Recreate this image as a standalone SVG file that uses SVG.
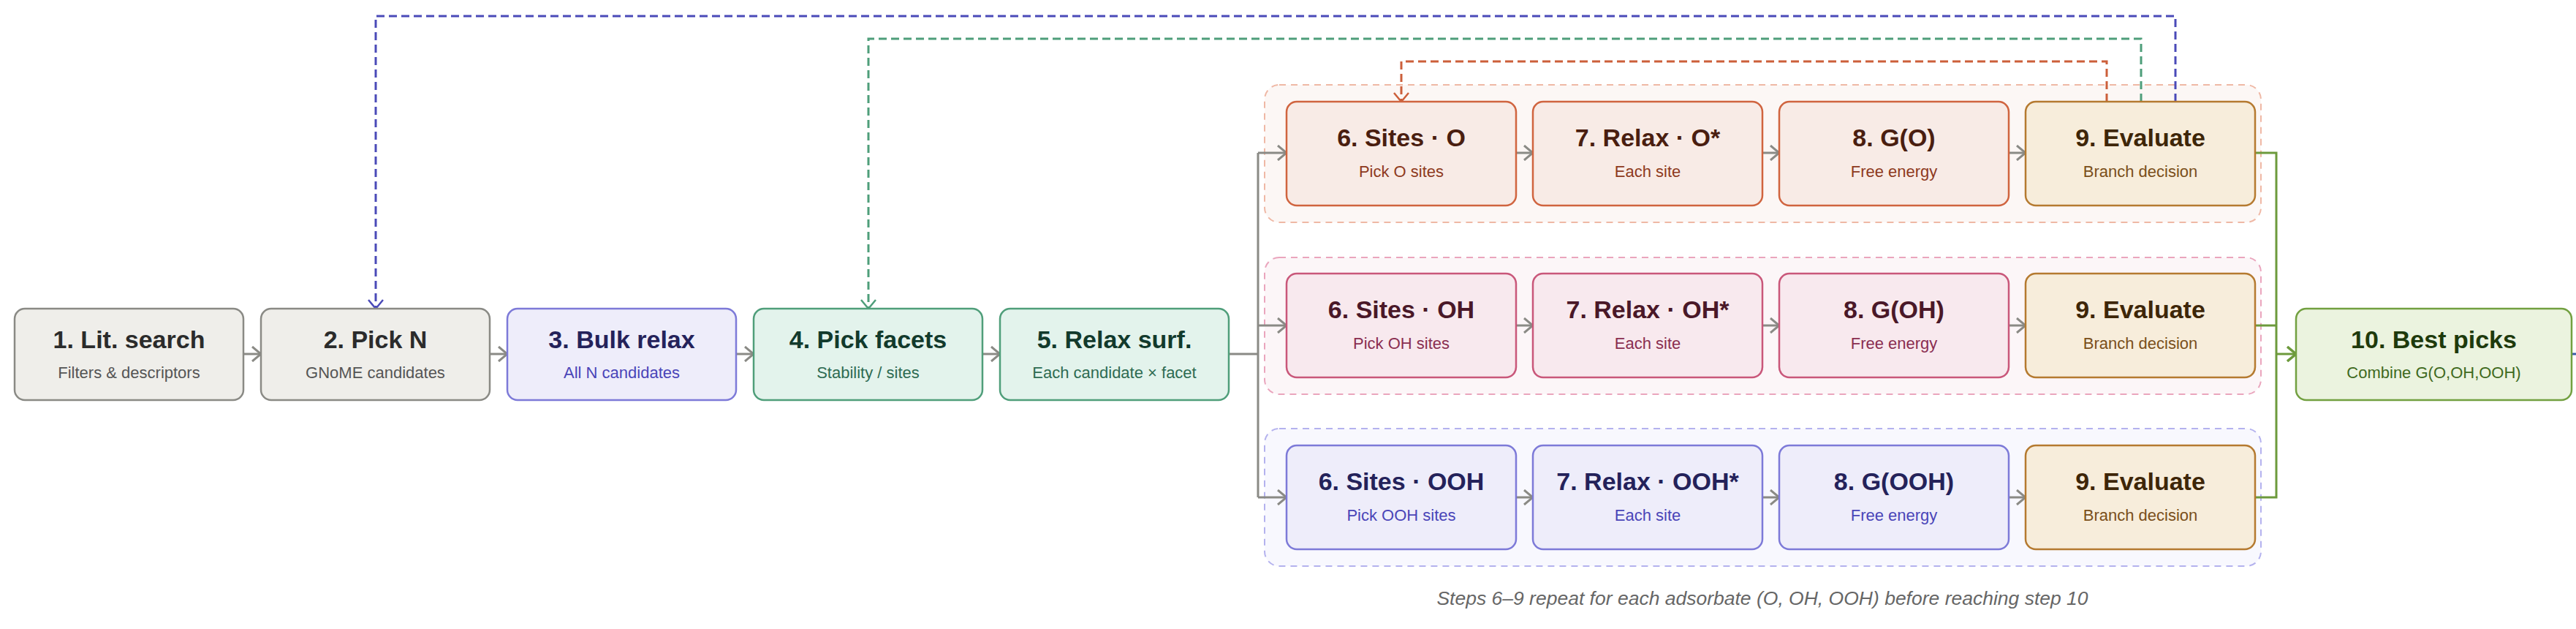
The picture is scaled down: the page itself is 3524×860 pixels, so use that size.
<svg xmlns="http://www.w3.org/2000/svg" width="3524" height="860" viewBox="0 0 3524 860">
<style>
text{font-family:"Liberation Sans",Arial,sans-serif;text-anchor:middle}
.t{font-size:34px;font-weight:bold}
.s{font-size:22px}
.cap{font-size:26.5px;font-style:italic;fill:#666}
.gray rect{fill:#efeeea;stroke:#8a8a85}
.gray .t{fill:#2b2b2b}.gray .s{fill:#555}
.blue rect{fill:#eeedfa;stroke:#7d7ad8}
.blue .t{fill:#24225a}.blue .s{fill:#4a45b8}
.teal rect{fill:#e3f3ec;stroke:#4f9e7a}
.teal .t{fill:#123a2c}.teal .s{fill:#2e6b52}
.org rect{fill:#f8ebe6;stroke:#d0643f}
.org .t{fill:#4a1e10}.org .s{fill:#8e3a20}
.pink rect{fill:#f8e9ee;stroke:#c9577a}
.pink .t{fill:#4a1828}.pink .s{fill:#8a2e50}
.eval rect{fill:#f7eddb;stroke:#b57a30}
.eval .t{fill:#3e2608}.eval .s{fill:#7a4f1a}
.best rect{fill:#ebf3df;stroke:#72a040}
.best .t{fill:#1e3a0c}.best .s{fill:#3f6a1e}
.node rect{stroke-width:2.5}
.grp{stroke-width:2;stroke-dasharray:9 7}
.c{fill:none;stroke-width:3}
.cg{stroke:#8a8a85}
.cgr{stroke:#6d9a3c}
.d{fill:none;stroke-width:3;stroke-dasharray:11 6}
</style>
<defs>
<marker id="ag" viewBox="0 0 14 22" refX="13" refY="11" markerWidth="14" markerHeight="22" markerUnits="userSpaceOnUse" orient="auto"><path d="M1,1 L13,11 L1,21" fill="none" stroke="#8a8a85" stroke-width="3"/></marker>
<marker id="agr" viewBox="0 0 14 22" refX="13" refY="11" markerWidth="14" markerHeight="22" markerUnits="userSpaceOnUse" orient="auto"><path d="M1,1 L13,11 L1,21" fill="none" stroke="#6d9a3c" stroke-width="3.5"/></marker>
<marker id="ao" viewBox="0 0 14 22" refX="13" refY="11" markerWidth="14" markerHeight="22" markerUnits="userSpaceOnUse" orient="auto"><path d="M1,1 L13,11 L1,21" fill="none" stroke="#cc5f3a" stroke-width="2.5"/></marker>
<marker id="at" viewBox="0 0 14 22" refX="13" refY="11" markerWidth="14" markerHeight="22" markerUnits="userSpaceOnUse" orient="auto"><path d="M1,1 L13,11 L1,21" fill="none" stroke="#4e9e7a" stroke-width="2.5"/></marker>
<marker id="ab" viewBox="0 0 14 22" refX="13" refY="11" markerWidth="14" markerHeight="22" markerUnits="userSpaceOnUse" orient="auto"><path d="M1,1 L13,11 L1,21" fill="none" stroke="#4a4ab8" stroke-width="2.5"/></marker>
</defs>

<g id="groups">
<rect id="grp-o" class="grp" x="1730" y="116" width="1363" height="188" rx="20" fill="#fcf7f5" stroke="#efb8a5"/>
<rect id="grp-oh" class="grp" x="1730" y="352" width="1363" height="187" rx="20" fill="#fcf6f8" stroke="#eaa5bd"/>
<rect id="grp-ooh" class="grp" x="1730" y="586" width="1363" height="188" rx="20" fill="#f8f8fe" stroke="#b4b2ee"/>
</g>

<g id="connectors">
<line class="c cg" x1="333" y1="484" x2="357" y2="484" marker-end="url(#ag)"/>
<line class="c cg" x1="670" y1="484" x2="694" y2="484" marker-end="url(#ag)"/>
<line class="c cg" x1="1007" y1="484" x2="1031" y2="484" marker-end="url(#ag)"/>
<line class="c cg" x1="1344" y1="484" x2="1368" y2="484" marker-end="url(#ag)"/>
<path class="c cg" d="M1681,484 H1721"/>
<path class="c cg" d="M1721,209 V680"/>
<line class="c cg" x1="1721" y1="209" x2="1760" y2="209" marker-end="url(#ag)"/>
<line class="c cg" x1="1721" y1="445" x2="1760" y2="445" marker-end="url(#ag)"/>
<line class="c cg" x1="1721" y1="680" x2="1760" y2="680" marker-end="url(#ag)"/>
<line class="c cg" x1="2074" y1="209" x2="2097" y2="209" marker-end="url(#ag)"/>
<line class="c cg" x1="2411" y1="209" x2="2434" y2="209" marker-end="url(#ag)"/>
<line class="c cg" x1="2748" y1="209" x2="2771" y2="209" marker-end="url(#ag)"/>
<line class="c cg" x1="2074" y1="445" x2="2097" y2="445" marker-end="url(#ag)"/>
<line class="c cg" x1="2411" y1="445" x2="2434" y2="445" marker-end="url(#ag)"/>
<line class="c cg" x1="2748" y1="445" x2="2771" y2="445" marker-end="url(#ag)"/>
<line class="c cg" x1="2074" y1="680" x2="2097" y2="680" marker-end="url(#ag)"/>
<line class="c cg" x1="2411" y1="680" x2="2434" y2="680" marker-end="url(#ag)"/>
<line class="c cg" x1="2748" y1="680" x2="2771" y2="680" marker-end="url(#ag)"/>
<path class="c cgr" d="M3085,209 H3114 V680 H3085"/>
<path class="c cgr" d="M3085,445 H3114"/>
<line class="c cgr" x1="3114" y1="484" x2="3141" y2="484" marker-end="url(#agr)"/>
<line class="c" stroke="#3a5aa8" x1="3518" y1="484" x2="3524" y2="484"/>
<path class="d" stroke="#cc5f3a" d="M2882,139 V84 H1917 V139" marker-end="url(#ao)"/>
<path class="d" stroke="#4e9e7a" d="M2929,139 V53 H1188 V422" marker-end="url(#at)"/>
<path class="d" stroke="#4a4ab8" d="M2976,139 V22 H514 V422" marker-end="url(#ab)"/>
</g>

<g id="n1" class="node gray"><rect x="20" y="422" width="313" height="125" rx="14"/><text class="t" x="176.5" y="476">1. Lit. search</text><text class="s" x="176.5" y="517">Filters &amp; descriptors</text></g>
<g id="n2" class="node gray"><rect x="357" y="422" width="313" height="125" rx="14"/><text class="t" x="513.5" y="476">2. Pick N</text><text class="s" x="513.5" y="517">GNoME candidates</text></g>
<g id="n3" class="node blue"><rect x="694" y="422" width="313" height="125" rx="14"/><text class="t" x="850.5" y="476">3. Bulk relax</text><text class="s" x="850.5" y="517">All N candidates</text></g>
<g id="n4" class="node teal"><rect x="1031" y="422" width="313" height="125" rx="14"/><text class="t" x="1187.5" y="476">4. Pick facets</text><text class="s" x="1187.5" y="517">Stability / sites</text></g>
<g id="n5" class="node teal"><rect x="1368" y="422" width="313" height="125" rx="14"/><text class="t" x="1524.5" y="476">5. Relax surf.</text><text class="s" x="1524.5" y="517">Each candidate × facet</text></g>

<g id="n6-o" class="node org"><rect x="1760" y="139" width="314" height="142" rx="14"/><text class="t" x="1917" y="200">6. Sites · O</text><text class="s" x="1917" y="242">Pick O sites</text></g>
<g id="n7-o" class="node org"><rect x="2097" y="139" width="314" height="142" rx="14"/><text class="t" x="2254" y="200">7. Relax · O*</text><text class="s" x="2254" y="242">Each site</text></g>
<g id="n8-o" class="node org"><rect x="2434" y="139" width="314" height="142" rx="14"/><text class="t" x="2591" y="200">8. G(O)</text><text class="s" x="2591" y="242">Free energy</text></g>
<g id="n9-o" class="node eval"><rect x="2771" y="139" width="314" height="142" rx="14"/><text class="t" x="2928" y="200">9. Evaluate</text><text class="s" x="2928" y="242">Branch decision</text></g>

<g id="n6-oh" class="node pink"><rect x="1760" y="374" width="314" height="142" rx="14"/><text class="t" x="1917" y="435">6. Sites · OH</text><text class="s" x="1917" y="477">Pick OH sites</text></g>
<g id="n7-oh" class="node pink"><rect x="2097" y="374" width="314" height="142" rx="14"/><text class="t" x="2254" y="435">7. Relax · OH*</text><text class="s" x="2254" y="477">Each site</text></g>
<g id="n8-oh" class="node pink"><rect x="2434" y="374" width="314" height="142" rx="14"/><text class="t" x="2591" y="435">8. G(OH)</text><text class="s" x="2591" y="477">Free energy</text></g>
<g id="n9-oh" class="node eval"><rect x="2771" y="374" width="314" height="142" rx="14"/><text class="t" x="2928" y="435">9. Evaluate</text><text class="s" x="2928" y="477">Branch decision</text></g>

<g id="n6-ooh" class="node blue"><rect x="1760" y="609" width="314" height="142" rx="14"/><text class="t" x="1917" y="670">6. Sites · OOH</text><text class="s" x="1917" y="712">Pick OOH sites</text></g>
<g id="n7-ooh" class="node blue"><rect x="2097" y="609" width="314" height="142" rx="14"/><text class="t" x="2254" y="670">7. Relax · OOH*</text><text class="s" x="2254" y="712">Each site</text></g>
<g id="n8-ooh" class="node blue"><rect x="2434" y="609" width="314" height="142" rx="14"/><text class="t" x="2591" y="670">8. G(OOH)</text><text class="s" x="2591" y="712">Free energy</text></g>
<g id="n9-ooh" class="node eval"><rect x="2771" y="609" width="314" height="142" rx="14"/><text class="t" x="2928" y="670">9. Evaluate</text><text class="s" x="2928" y="712">Branch decision</text></g>

<g id="n10" class="node best"><rect x="3141" y="422" width="377" height="125" rx="14"/><text class="t" x="3329.5" y="476">10. Best picks</text><text class="s" x="3329.5" y="517">Combine G(O,OH,OOH)</text></g>

<text class="cap" x="2411" y="827">Steps 6–9 repeat for each adsorbate (O, OH, OOH) before reaching step 10</text>
</svg>
